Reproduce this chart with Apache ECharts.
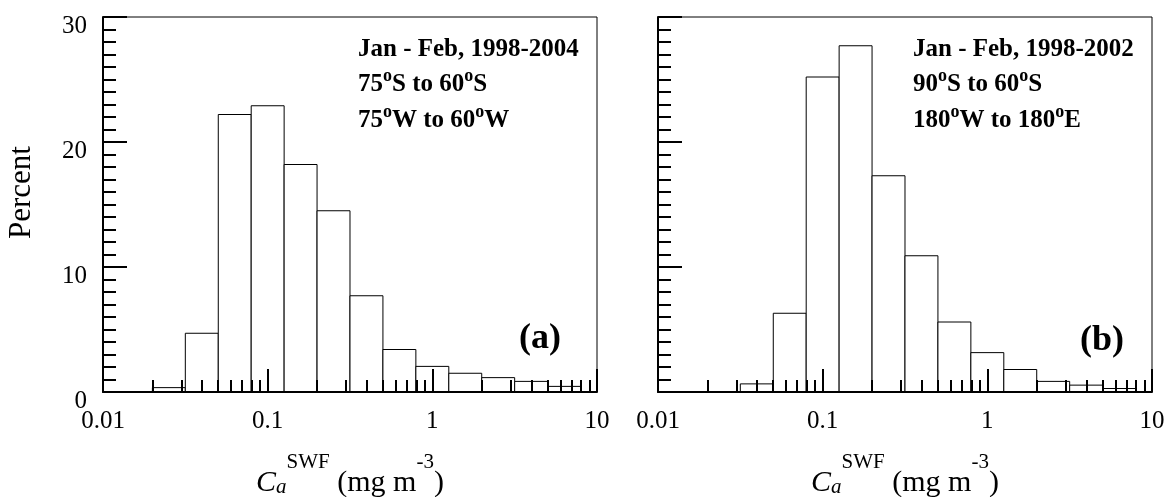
<!DOCTYPE html>
<html>
<head>
<meta charset="utf-8">
<script src="https://cdn.jsdelivr.net/npm/echarts@6/dist/echarts.min.js"></script>
<style>
html,body{margin:0;padding:0;background:#fff;}
#chart{width:1172px;height:497px;}
</style>
</head>
<body>
<div id="chart"></div>
<script>
// Bin edges (log-spaced, mg m^-3)
const binEdges = [0.01995, 0.03162, 0.05012, 0.07943, 0.1259, 0.1995, 0.3162, 0.5012, 0.7943, 1.259, 1.995, 3.162, 5.012, 7.943];
// Panel (a): bins starting at 0.01995
const percentA = [0.35, 4.7, 22.2, 22.9, 18.2, 14.5, 7.7, 3.4, 2.05, 1.5, 1.15, 0.85, 0.45];
// Panel (b): bins starting at 0.03162
const percentB = [0.65, 6.3, 25.2, 27.7, 17.3, 10.9, 5.6, 3.15, 1.8, 0.85, 0.55, 0.28];
const xMajorTicks = [0.01, 0.1, 1, 10];
const xMinorTicks = [0.02, 0.03, 0.04, 0.05, 0.06, 0.07, 0.08, 0.09, 0.2, 0.3, 0.4, 0.5, 0.6, 0.7, 0.8, 0.9, 2, 3, 4, 5, 6, 7, 8, 9];
const yTicks = [0, 10, 20, 30];
const notesA = ['Jan - Feb, 1998-2004', '75{s|o}S to 60{s|o}S', '75{s|o}W to 60{s|o}W'];
const notesB = ['Jan - Feb, 1998-2002', '90{s|o}S to 60{s|o}S', '180{s|o}W to 180{s|o}E'];

const FONT = '"Liberation Serif", "Times New Roman", serif';

function histData(values, firstEdge) {
  return values.map((v, i) => [binEdges[firstEdge + i], binEdges[firstEdge + i + 1], v]);
}

function renderItem(params, api) {
  const x0 = api.value(0), x1 = api.value(1), v = api.value(2);
  const p0 = api.coord([x0, v]);
  const p1 = api.coord([x1, 0]);
  return {
    type: 'rect',
    shape: { x: p0[0], y: p0[1], width: p1[0] - p0[0], height: p1[1] - p0[1] },
    style: { fill: '#fff', stroke: '#000', lineWidth: 1 }
  };
}

const grids = [
  { left: 103, top: 17, width: 494, height: 375, show: true, borderColor: '#000', borderWidth: 1, outerBoundsMode: 'none', containLabel: false },
  { left: 658, top: 17, width: 494, height: 375, show: true, borderColor: '#000', borderWidth: 1, outerBoundsMode: 'none', containLabel: false }
];

const xTitle = {
  formatter: '{i|C}{sub|a}{sup|SWF}{n| (mg m}{sup|-3}{n|)}',
  rich: {
    i: { fontFamily: FONT, fontStyle: 'italic', fontSize: 30, color: '#000', lineHeight: 46, verticalAlign: 'bottom' },
    sub: { fontFamily: FONT, fontStyle: 'italic', fontSize: 21, color: '#000', lineHeight: 21, verticalAlign: 'bottom' },
    sup: { fontFamily: FONT, fontSize: 21, color: '#000', lineHeight: 21, verticalAlign: 'top' },
    n: { fontFamily: FONT, fontSize: 30, color: '#000', lineHeight: 46, verticalAlign: 'bottom' }
  }
};

function makeXAxes(gi) {
  return [
    {
      gridIndex: gi, type: 'log', logBase: 10, min: 0.01, max: 10, position: 'bottom', z: 5,
      axisLine: { show: true, onZero: false, lineStyle: { color: '#000', width: 2 } },
      axisTick: { show: true, inside: true, length: 23, customValues: xMajorTicks, lineStyle: { color: '#000', width: 2 } },
      axisLabel: { show: true, customValues: xMajorTicks, fontFamily: FONT, fontSize: 25, color: '#000', margin: 17,
        formatter: v => String(v) },
      splitLine: { show: false },
      name: xTitle.formatter, nameLocation: 'middle', nameGap: 60,
      nameTextStyle: { rich: xTitle.rich }
    },
    {
      gridIndex: gi, type: 'log', logBase: 10, min: 0.01, max: 10, position: 'bottom', z: 5,
      axisLine: { show: false },
      axisTick: { show: true, inside: true, length: 12, customValues: xMinorTicks, lineStyle: { color: '#000', width: 2 } },
      axisLabel: { show: false },
      splitLine: { show: false }
    }
  ];
}

function makeYAxis(gi, showLabels) {
  const ax = {
    gridIndex: gi, type: 'value', min: 0, max: 30, interval: 10, z: 5,
    axisLine: { show: true, lineStyle: { color: '#000', width: 2 } },
    axisTick: { show: true, inside: true, length: 24, lineStyle: { color: '#000', width: 2 } },
    minorTick: { show: true, splitNumber: 10, length: 13, lineStyle: { color: '#000', width: 2 } },
    axisLabel: { show: showLabels, fontFamily: FONT, fontSize: 25, color: '#000', margin: 16,
      verticalAlign: 'top', lineHeight: 18 },
    splitLine: { show: false }, minorSplitLine: { show: false }
  };
  if (showLabels) {
    ax.name = 'Percent';
    ax.nameLocation = 'middle';
    ax.nameGap = 66;
    ax.nameTextStyle = { fontFamily: FONT, fontSize: 31, color: '#000', padding: [0, 0, 0, 24] };
  }
  return ax;
}

function noteGraphics(lines, left) {
  return lines.map((t, k) => ({
    type: 'text', x: left, y: 32 + k * 35.5, z: 10,
    style: {
      text: '{m|' + t.replace(/\{s\|o\}/g, '}{s|o}{m|') + '}',
      rich: {
        m: { fontFamily: FONT, fontWeight: 'bold', fontSize: 25, fill: '#000', lineHeight: 30, verticalAlign: 'bottom' },
        s: { fontFamily: FONT, fontWeight: 'bold', fontSize: 18, fill: '#000', lineHeight: 17, verticalAlign: 'top' }
      }
    }
  }));
}

const chart = echarts.init(document.getElementById('chart'), null, { renderer: 'canvas' });
chart.setOption({
  animation: false,
  backgroundColor: '#fff',
  grid: grids,
  xAxis: [...makeXAxes(0), ...makeXAxes(1)],
  yAxis: [makeYAxis(0, true), makeYAxis(1, false)],
  series: [
    { type: 'custom', xAxisIndex: 0, yAxisIndex: 0, renderItem, encode: { x: [0, 1], y: 2 }, data: histData(percentA, 0), z: 1, clip: true },
    { type: 'custom', xAxisIndex: 2, yAxisIndex: 1, renderItem, encode: { x: [0, 1], y: 2 }, data: histData(percentB, 1), z: 1, clip: true }
  ],
  graphic: [
    ...noteGraphics(notesA, 358),
    ...noteGraphics(notesB, 913),
    { type: 'text', x: 540, y: 339, z: 10, style: { text: '(a)', fontFamily: FONT, fontWeight: 'bold', fontSize: 36, fill: '#000', align: 'center', verticalAlign: 'middle' } },
    { type: 'text', x: 1102, y: 341, z: 10, style: { text: '(b)', fontFamily: FONT, fontWeight: 'bold', fontSize: 36, fill: '#000', align: 'center', verticalAlign: 'middle' } }
  ]
});
</script>
</body>
</html>
